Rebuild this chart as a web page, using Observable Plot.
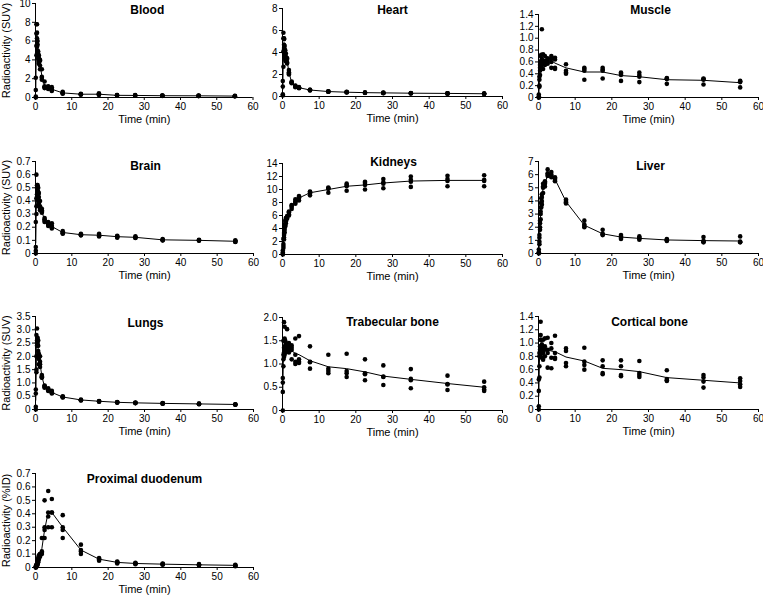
<!DOCTYPE html>
<html>
<head>
<meta charset="utf-8">
<script src="https://cdn.jsdelivr.net/npm/d3@7"></script>
<script src="https://cdn.jsdelivr.net/npm/@observablehq/plot@0.6"></script>
<style>
  html, body { margin: 0; padding: 0; background: #fff; overflow: hidden; }
  #figure { position: relative; width: 763px; height: 596px; overflow: hidden;
            font-family: "Liberation Sans", Arial, sans-serif; color: #000; }
  #figure svg { position: absolute; overflow: visible; background: transparent; }
</style>
</head>
<body>
<div id="figure"></div>
<script>
// Mid-frame times of the dynamic PET acquisition (min)
const frameTimes = [0.083, 0.25, 0.417, 0.583, 0.75, 0.917, 1.25, 1.75, 2.5, 3.5, 4.5,
                    7.5, 12.5, 17.5, 22.5, 27.5, 35, 45, 55];
const timeTicks = [0, 10, 20, 30, 40, 50, 60];

// Individual animals (4 per frame) and the mean curve, per organ
const bloodPts = [[0, 0.8, 2.1, 0.1], [5.5, 6.8, 7.8, 4.5], [7.8, 6.3, 6.9, 5.4], [6.0, 5.0, 5.6, 4.8],
  [4.9, 4.4, 4.6, 4.1], [4.2, 3.8, 4.5, 3.6], [3.9, 3.4, 3.0, 4.0], [3.0, 2.2, 1.9, 2.1],
  [1.7, 1.1, 1.2, 1.0], [1.2, 1.0, 1.1, 0.9], [1.1, 0.8, 0.9, 0.7], [0.6, 0.4, 0.5, 0.45],
  [0.4, 0.35, 0.3, 0.35], [0.45, 0.3, 0.3, 0.35], [0.25, 0.2, 0.25, 0.2], [0.25, 0.2, 0.2, 0.22],
  [0.2, 0.18, 0.2, 0.17], [0.22, 0.17, 0.18, 0.15], [0.18, 0.14, 0.15, 0.13]];
const bloodMean = [0.75, 6.15, 6.6, 5.35, 4.5, 4.0, 3.6, 2.3, 1.25, 1.05, 0.88, 0.49, 0.35, 0.35, 0.23, 0.22, 0.19, 0.18, 0.15];
const bloodTicks = [0, 2, 4, 6, 8, 10];

const heartPts = [[0.2, 0.9, 1.4, 0.1], [2.7, 5.8, 5.3, 4.1], [5.3, 5.2, 4.4, 4.7], [4.3, 4.0, 4.6, 3.8],
  [4.2, 3.6, 3.9, 3.4], [3.9, 3.3, 3.6, 3.2], [3.4, 3.0, 3.5, 3.1], [2.4, 2.1, 2.0, 2.2],
  [1.3, 1.25, 1.35, 1.2], [1.0, 0.9, 0.95, 0.85], [0.85, 0.8, 0.75, 0.8], [0.62, 0.58, 0.6, 0.55],
  [0.47, 0.45, 0.43, 0.44], [0.42, 0.38, 0.4, 0.37], [0.37, 0.35, 0.34, 0.33], [0.35, 0.33, 0.32, 0.3],
  [0.32, 0.3, 0.29, 0.28], [0.3, 0.28, 0.27, 0.26], [0.28, 0.25, 0.24, 0.23]];
const heartMean = [0.65, 4.5, 4.9, 4.2, 3.8, 3.5, 3.25, 2.2, 1.28, 0.93, 0.8, 0.59, 0.45, 0.39, 0.35, 0.33, 0.3, 0.28, 0.25];
const heartTicks = [0, 2, 4, 6, 8];

const musclePts = [[0, 0.05, 0.02, 0.0], [0.2, 0.35, 0.18, 0.3], [0.45, 0.55, 0.38, 0.5], [0.6, 0.7, 0.48, 0.55],
  [0.62, 0.72, 0.5, 0.58], [0.65, 1.15, 0.55, 0.6], [0.73, 0.62, 0.48, 0.58], [0.7, 0.6, 0.55, 0.62],
  [0.66, 0.6, 0.57, 0.64], [0.7, 0.5, 0.66, 0.6], [0.67, 0.5, 0.64, 0.48], [0.56, 0.45, 0.42, 0.4],
  [0.5, 0.48, 0.45, 0.3], [0.5, 0.47, 0.45, 0.32], [0.42, 0.4, 0.38, 0.28], [0.42, 0.38, 0.35, 0.26],
  [0.33, 0.32, 0.31, 0.23], [0.32, 0.31, 0.3, 0.22], [0.28, 0.27, 0.26, 0.17]];
const muscleMean = [0.02, 0.26, 0.47, 0.58, 0.6, 0.6, 0.6, 0.62, 0.62, 0.62, 0.58, 0.5, 0.43, 0.43, 0.37, 0.35, 0.3, 0.29, 0.25];
const muscleTicks = [0, 0.2, 0.4, 0.6, 0.8, 1.0, 1.2, 1.4];

const brainPts = [[0, 0.24, 0.05, 0.02], [0.36, 0.6, 0.42, 0.3], [0.5, 0.52, 0.45, 0.41], [0.52, 0.5, 0.48, 0.44],
  [0.5, 0.47, 0.45, 0.42], [0.46, 0.43, 0.4, 0.38], [0.4, 0.36, 0.33, 0.34], [0.33, 0.32, 0.31, 0.34],
  [0.27, 0.25, 0.26, 0.24], [0.24, 0.22, 0.23, 0.21], [0.23, 0.2, 0.21, 0.19], [0.17, 0.15, 0.16, 0.155],
  [0.15, 0.14, 0.145, 0.138], [0.15, 0.135, 0.14, 0.13], [0.135, 0.12, 0.13, 0.125], [0.13, 0.12, 0.125, 0.118],
  [0.11, 0.1, 0.105, 0.1], [0.105, 0.1, 0.1, 0.097], [0.1, 0.09, 0.095, 0.088]];
const brainMean = [0.08, 0.42, 0.47, 0.49, 0.46, 0.42, 0.36, 0.32, 0.255, 0.225, 0.205, 0.16, 0.143, 0.139, 0.128, 0.123, 0.104, 0.1, 0.093];
const brainTicks = [0, 0.1, 0.2, 0.3, 0.4, 0.5, 0.6, 0.7];

const kidneysPts = [[0, 0.3, 0.6, 0.1], [1.0, 1.6, 2.4, 1.3], [2.3, 3.3, 3.0, 2.6], [3.4, 4.2, 4.5, 3.8],
  [4.3, 4.8, 5.2, 4.5], [4.8, 5.4, 5.6, 5.1], [5.5, 5.8, 5.9, 5.6], [6.5, 6.2, 6.6, 6.0],
  [7.5, 7.0, 7.3, 7.6], [8.5, 7.8, 8.0, 8.2], [9.0, 8.7, 8.3, 8.8], [9.7, 9.4, 9.1, 9.6],
  [10.3, 10.1, 9.5, 10.2], [10.9, 10.5, 9.8, 10.7], [11.2, 10.7, 10.0, 11.0], [11.6, 10.9, 10.2, 11.1],
  [12.0, 11.2, 10.4, 11.5], [12.1, 11.3, 10.5, 11.6], [12.2, 11.3, 10.5, 11.5]];
const kidneysMean = [0.25, 1.6, 2.8, 4.0, 4.7, 5.2, 5.7, 6.3, 7.3, 8.1, 8.7, 9.5, 10.0, 10.5, 10.7, 11.0, 11.3, 11.4, 11.4];
const kidneysTicks = [0, 2, 4, 6, 8, 10, 12, 14];

const liverPts = [[0, 0.3, 0.1, 0.05], [0.7, 1.2, 0.9, 1.4], [2.0, 2.5, 1.8, 2.3], [3.0, 3.5, 2.6, 3.2],
  [3.8, 4.2, 3.5, 3.9], [4.5, 4.3, 3.7, 4.0], [5.0, 5.3, 4.6, 5.1], [5.5, 5.3, 5.1, 5.4],
  [6.4, 6.0, 5.9, 6.1], [6.2, 5.8, 6.0, 5.9], [5.7, 5.5, 5.6, 5.8], [4.1, 3.9, 3.8, 4.0],
  [2.5, 2.1, 2.0, 2.2], [1.8, 1.5, 1.4, 1.45], [1.4, 1.2, 1.1, 1.3], [1.3, 1.2, 1.05, 1.15],
  [1.1, 1.05, 0.95, 1.0], [1.25, 0.95, 0.85, 0.9], [1.3, 0.9, 0.85, 0.88]];
const liverMean = [0.1, 1.05, 2.15, 3.1, 3.85, 4.1, 5.0, 5.3, 6.0, 6.0, 5.65, 3.95, 2.15, 1.5, 1.25, 1.15, 1.03, 0.98, 0.95];
const liverTicks = [0, 1, 2, 3, 4, 5, 6, 7];

const lungsPts = [[0, 0.6, 0.75, 0.1], [1.4, 2.0, 2.8, 1.5], [2.5, 3.05, 2.6, 2.4], [2.6, 2.5, 2.7, 2.4],
  [2.6, 2.2, 2.4, 2.0], [2.1, 1.9, 2.0, 1.7], [1.8, 1.7, 2.0, 1.6], [1.3, 1.2, 1.25, 1.2],
  [0.9, 0.85, 0.88, 0.82], [0.8, 0.7, 0.75, 0.72], [0.7, 0.6, 0.65, 0.62], [0.5, 0.45, 0.48, 0.46],
  [0.37, 0.35, 0.36, 0.34], [0.32, 0.3, 0.31, 0.29], [0.28, 0.26, 0.27, 0.26], [0.26, 0.24, 0.25, 0.24],
  [0.24, 0.23, 0.23, 0.22], [0.22, 0.21, 0.21, 0.2], [0.2, 0.19, 0.19, 0.18]];
const lungsMean = [0.35, 1.9, 2.65, 2.55, 2.3, 1.95, 1.75, 1.24, 0.86, 0.74, 0.64, 0.47, 0.36, 0.31, 0.27, 0.25, 0.23, 0.21, 0.19];
const lungsTicks = [0, 0.5, 1.0, 1.5, 2.0, 2.5, 3.0, 3.5];

const trabecularPts = [[0, 0.4, 0.6, 0.7], [0.95, 1.1, 1.5, 1.2], [1.9, 1.25, 1.15, 1.35], [1.55, 1.8, 1.3, 1.2],
  [1.4, 1.5, 1.3, 1.25], [1.35, 1.45, 1.28, 1.3], [1.75, 1.3, 1.4, 1.32], [1.45, 1.3, 1.25, 1.38],
  [1.4, 1.3, 1.1, 1.35], [1.55, 1.2, 1.0, 1.05], [1.6, 1.1, 1.05, 1.02], [1.38, 1.05, 0.9, 1.04],
  [1.2, 0.9, 0.85, 0.8], [1.22, 0.85, 0.8, 0.72], [1.1, 0.8, 0.78, 0.65], [0.97, 0.72, 0.73, 0.55],
  [0.89, 0.68, 0.65, 0.48], [0.75, 0.57, 0.56, 0.44], [0.62, 0.5, 0.45, 0.42]];
const trabecularMean = [0.43, 1.19, 1.41, 1.42, 1.36, 1.35, 1.4, 1.33, 1.28, 1.23, 1.2, 1.07, 0.94, 0.9, 0.83, 0.74, 0.67, 0.58, 0.5];
const trabecularTicks = [0, 0.5, 1.0, 1.5, 2.0];

const corticalPts = [[0, 0.05, 0.28, 0.45], [0.48, 0.65, 0.8, 0.85], [0.95, 0.8, 1.05, 0.9], [1.32, 1.12, 0.82, 0.88],
  [1.05, 0.9, 0.85, 0.95], [0.98, 0.92, 0.78, 0.88], [1.05, 0.9, 0.75, 0.85], [1.07, 0.95, 0.8, 0.9],
  [1.08, 0.9, 0.63, 0.85], [1.0, 0.92, 0.78, 0.62], [1.11, 0.85, 0.78, 0.76], [0.92, 0.88, 0.7, 0.65],
  [0.93, 0.72, 0.67, 0.6], [0.74, 0.65, 0.55, 0.53], [0.74, 0.65, 0.52, 0.5], [0.73, 0.55, 0.52, 0.49],
  [0.59, 0.46, 0.44, 0.43], [0.52, 0.48, 0.42, 0.33], [0.47, 0.43, 0.38, 0.34]];
const corticalMean = [0.2, 0.7, 0.93, 1.0, 0.97, 0.95, 0.93, 0.94, 0.9, 0.88, 0.87, 0.79, 0.73, 0.62, 0.6, 0.57, 0.48, 0.44, 0.4];
const corticalTicks = [0, 0.2, 0.4, 0.6, 0.8, 1.0, 1.2, 1.4];

const duodenumPts = [[0, 0.005, 0, 0.01], [0.01, 0.02, 0.005, 0.015], [0.02, 0.03, 0.015, 0.025], [0.03, 0.05, 0.02, 0.04],
  [0.05, 0.07, 0.04, 0.06], [0.07, 0.09, 0.06, 0.08], [0.1, 0.09, 0.08, 0.1], [0.22, 0.1, 0.11, 0.12],
  [0.5, 0.28, 0.22, 0.3], [0.57, 0.41, 0.38, 0.3], [0.51, 0.41, 0.41, 0.3], [0.39, 0.3, 0.28, 0.22],
  [0.17, 0.13, 0.12, 0.1], [0.07, 0.065, 0.06, 0.05], [0.045, 0.04, 0.035, 0.03], [0.035, 0.03, 0.03, 0.025],
  [0.03, 0.025, 0.025, 0.02], [0.025, 0.02, 0.02, 0.015], [0.02, 0.015, 0.015, 0.01]];
const duodenumMean = [0.004, 0.012, 0.022, 0.035, 0.055, 0.075, 0.09, 0.14, 0.28, 0.41, 0.41, 0.3, 0.13, 0.062, 0.038, 0.03, 0.025, 0.02, 0.016];
const duodenumTicks = [0, 0.1, 0.2, 0.3, 0.4, 0.5, 0.6, 0.7];

// Panel layout: pixel extents of each plot frame on the page
const panels = [
  { title: "Blood", pts: bloodPts, mean: bloodMean, ticks: bloodTicks, dec: 0,
    x0: 35, x1: 252.5, yTop: 3, yBot: 97, titleY: 10, titleDx: 3, ylabel: "Radioactivity (SUV)" },
  { title: "Heart", pts: heartPts, mean: heartMean, ticks: heartTicks, dec: 0,
    x0: 282, x1: 502, yTop: 8, yBot: 96, titleY: 10, titleDx: 0 },
  { title: "Muscle", pts: musclePts, mean: muscleMean, ticks: muscleTicks, dec: 1,
    x0: 538, x1: 758, yTop: 14, yBot: 97, titleY: 10, titleDx: 2 },
  { title: "Brain", pts: brainPts, mean: brainMean, ticks: brainTicks, dec: 1,
    x0: 35, x1: 253, yTop: 161, yBot: 253, titleY: 166, titleDx: 1, ylabel: "Radioactivity (SUV)" },
  { title: "Kidneys", pts: kidneysPts, mean: kidneysMean, ticks: kidneysTicks, dec: 0,
    x0: 282, x1: 502, yTop: 163, yBot: 254, titleY: 162, titleDx: 1 },
  { title: "Liver", pts: liverPts, mean: liverMean, ticks: liverTicks, dec: 0,
    x0: 538, x1: 758, yTop: 161, yBot: 253, titleY: 166, titleDx: 2 },
  { title: "Lungs", pts: lungsPts, mean: lungsMean, ticks: lungsTicks, dec: 1,
    x0: 35, x1: 253, yTop: 316, yBot: 409, titleY: 323, titleDx: 1, ylabel: "Radioactivity (SUV)" },
  { title: "Trabecular bone", pts: trabecularPts, mean: trabecularMean, ticks: trabecularTicks, dec: 1,
    x0: 282, x1: 502, yTop: 317, yBot: 410, titleY: 322, titleDx: 0 },
  { title: "Cortical bone", pts: corticalPts, mean: corticalMean, ticks: corticalTicks, dec: 1,
    x0: 538, x1: 758, yTop: 316, yBot: 409, titleY: 322, titleDx: 1 },
  { title: "Proximal duodenum", pts: duodenumPts, mean: duodenumMean, ticks: duodenumTicks, dec: 1,
    x0: 35, x1: 253, yTop: 473, yBot: 567, titleY: 479, titleDx: 0, ylabel: "Radioactivity (%ID)" }
];

const FONT = '"Liberation Sans", Arial, sans-serif';
const mL = 40, mR = 6, mT = 12, mB = 30;
const figure = document.getElementById("figure");

for (const p of panels) {
  const dots = p.pts.flatMap((row, i) => row.map(v => ({ t: frameTimes[i], v })));
  const curve = p.mean.map((v, i) => ({ t: frameTimes[i], v }));
  const fmt = d => (d === 0 ? "0" : d.toFixed(p.dec));
  const yMax = p.ticks[p.ticks.length - 1];

  const marks = [
    Plot.axisX({ ticks: timeTicks, tickSize: 3, tickPadding: 2, label: null }),
    Plot.axisY({ ticks: p.ticks, tickFormat: fmt, tickSize: 3, tickPadding: 2, label: null }),
    Plot.ruleX([0], { stroke: "black", strokeWidth: 1 }),
    Plot.ruleY([0], { stroke: "black", strokeWidth: 1 }),
    Plot.line(curve, { x: "t", y: "v", stroke: "black", strokeWidth: 1 }),
    Plot.dot(dots, { x: "t", y: "v", r: 2.3, fill: "black", stroke: "none" }),
    Plot.text([p.title], { frameAnchor: "top", dy: p.titleY - p.yTop, dx: p.titleDx,
      lineAnchor: "middle", textAnchor: "middle", fontWeight: "bold", fontSize: 12, fill: "black" }),
    Plot.text(["Time (min)"], { frameAnchor: "bottom", dy: 22, lineAnchor: "middle",
      textAnchor: "middle", fontSize: 11, fill: "black" })
  ];
  if (p.ylabel) {
    marks.push(Plot.text([p.ylabel], { frameAnchor: "left", dx: -29, rotate: -90,
      lineAnchor: "middle", textAnchor: "middle", fontSize: 11, fill: "black" }));
  }

  const svg = Plot.plot({
    width: mL + (p.x1 - p.x0) + mR,
    height: mT + (p.yBot - p.yTop) + mB,
    marginLeft: mL, marginRight: mR, marginTop: mT, marginBottom: mB,
    style: { fontFamily: FONT, fontSize: "10px", color: "black", background: "transparent", overflow: "visible" },
    x: { domain: [0, 60] },
    y: { domain: [0, yMax] },
    marks
  });
  svg.style.left = (p.x0 - mL) + "px";
  svg.style.top = (p.yTop - mT) + "px";
  figure.appendChild(svg);
}
</script>
</body>
</html>
